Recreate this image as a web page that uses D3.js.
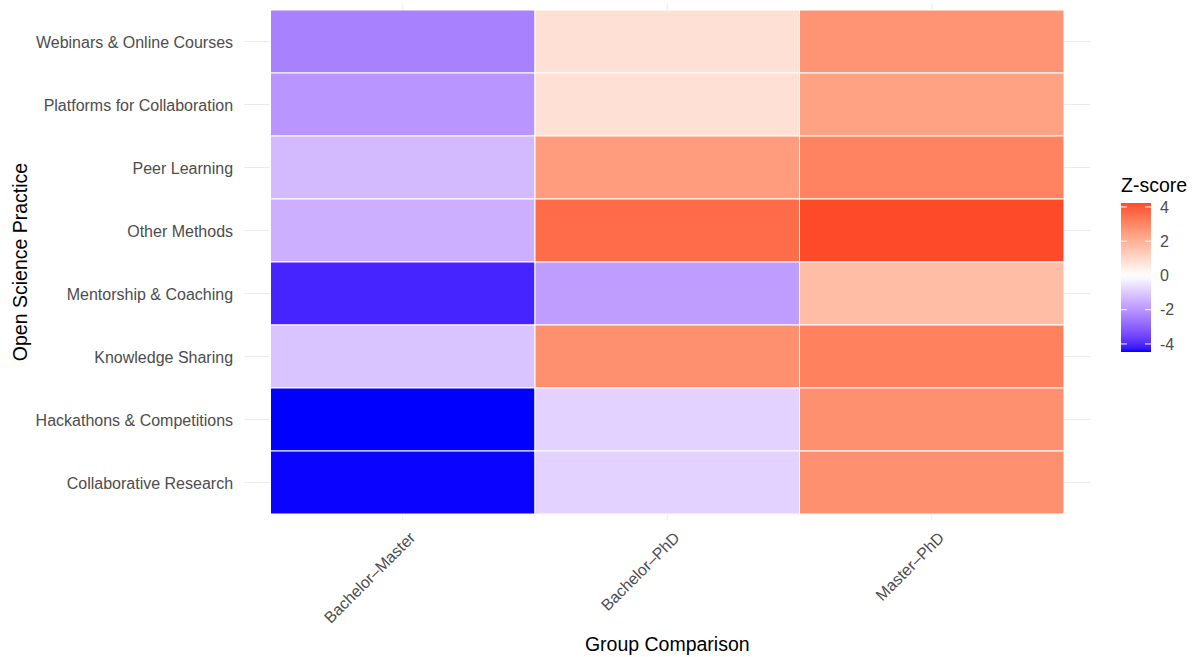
<!DOCTYPE html>
<html>
<head>
<meta charset="utf-8">
<script src="https://cdn.jsdelivr.net/npm/d3@7"></script>
<style>
html,body{margin:0;padding:0;background:#fff;}
svg{display:block;font-family:"Liberation Sans",Arial,sans-serif;}
</style>
</head>
<body>
<svg id="chart" width="1199" height="657"></svg>
<script>
// ---- data ----
const practices = [
  "Webinars & Online Courses",
  "Platforms for Collaboration",
  "Peer Learning",
  "Other Methods",
  "Mentorship & Coaching",
  "Knowledge Sharing",
  "Hackathons & Competitions",
  "Collaborative Research"
];
const comparisons = ["Bachelor–Master", "Bachelor–PhD", "Master–PhD"];
const bachelorMaster = [-2.4, -2.0, -1.3, -1.5, -4.1, -1.1, -4.47, -4.45];
const bachelorPhD    = [0.8, 0.8, 2.5, 3.6, -1.85, 2.8, -0.85, -0.85];
const masterPhD      = [2.7, 2.4, 3.1, 4.23, 1.7, 3.15, 2.8, 2.8];
const legendTicks = [-4, -2, 0, 2, 4];

const seriesByComparison = [bachelorMaster, bachelorPhD, masterPhD];
const cells = [];
comparisons.forEach((c, ci) => {
  practices.forEach((p, pi) => {
    cells.push({comparison: c, practice: p, z: seriesByComparison[ci][pi]});
  });
});

const svg = d3.select("#chart");

// panel (tiles area) with ggplot-like discrete expansion
const tileL = 270.5, tileR = 1064, tileT = 10, tileB = 514;
const unitX = (tileR - tileL) / comparisons.length;
const unitY = (tileB - tileT) / practices.length;
const panelL = tileL - 0.1 * unitX, panelR = tileR + 0.1 * unitX;
const panelT = tileT - 0.1 * unitY, panelB = tileB + 0.1 * unitY;

const x = d3.scaleBand().domain(comparisons).range([tileL, tileR]).padding(0);
const y = d3.scaleBand().domain(practices).range([tileT, tileB]).padding(0);

const zMin = d3.min(cells, d => d.z), zMax = d3.max(cells, d => d.z);
const zAbs = Math.max(Math.abs(zMin), Math.abs(zMax));
const lowInterp = d3.interpolateLab("white", "#0000ff");
const highInterp = d3.interpolateLab("white", "#ff3a1e");
function color(v) {
  const t = v / zAbs;
  return t >= 0 ? highInterp(Math.min(1, t)) : lowInterp(Math.min(1, -t));
}

// grid lines
const grid = svg.append("g");
comparisons.forEach(c => {
  const gx = x(c) + x.bandwidth() / 2;
  grid.append("line").attr("x1", gx).attr("x2", gx).attr("y1", panelT).attr("y2", panelB)
    .attr("stroke", "#ebebeb").attr("stroke-width", 1);
});
practices.forEach(p => {
  const gy = y(p) + y.bandwidth() / 2;
  grid.append("line").attr("x1", panelL).attr("x2", panelR).attr("y1", gy).attr("y2", gy)
    .attr("stroke", "#ebebeb").attr("stroke-width", 1);
});

// tiles
svg.append("g").selectAll("rect").data(cells).join("rect")
  .attr("x", d => x(d.comparison))
  .attr("y", d => y(d.practice))
  .attr("width", x.bandwidth())
  .attr("height", y.bandwidth())
  .attr("fill", d => color(d.z))
  .attr("stroke", "white")
  .attr("stroke-width", 1);

// y axis labels
const yAxis = d3.axisLeft(y).tickSize(0).tickPadding(0);
const yg = svg.append("g").attr("transform", `translate(${panelL - 11},1)`).call(yAxis);
yg.select(".domain").remove();
yg.selectAll("text").attr("fill", "#4d4d4d").attr("font-size", "16px")
  .attr("font-family", "Liberation Sans, Arial, sans-serif");

// x axis labels rotated 45
const xAxis = d3.axisBottom(x).tickSize(0).tickPadding(0);
const xg = svg.append("g").attr("transform", `translate(0,${panelB + 6})`).call(xAxis);
xg.select(".domain").remove();
xg.selectAll("text")
  .attr("fill", "#4d4d4d").attr("font-size", "16px")
  .attr("font-family", "Liberation Sans, Arial, sans-serif")
  .attr("text-anchor", "end")
  .attr("dy", "0.75em")
  .attr("transform", "translate(5,4) rotate(-45)");

// axis titles
svg.append("text").attr("x", (panelL + panelR) / 2).attr("y", 651)
  .attr("text-anchor", "middle").attr("font-size", "19.5px").attr("fill", "#000")
  .text("Group Comparison");
svg.append("text")
  .attr("transform", `translate(27,${(panelT + panelB) / 2}) rotate(-90)`)
  .attr("text-anchor", "middle").attr("font-size", "19.5px").attr("fill", "#000")
  .text("Open Science Practice");

// legend
const legX = 1121, legW = 30, legT = 203, legB = 352;
const ls = d3.scaleLinear().domain([zMin, zMax]).range([legB, legT]);
const defs = svg.append("defs");
const grad = defs.append("linearGradient").attr("id", "zgrad")
  .attr("x1", 0).attr("x2", 0).attr("y1", 1).attr("y2", 0);
d3.range(0, 41).forEach(i => {
  const v = zMin + (zMax - zMin) * i / 40;
  grad.append("stop").attr("offset", (i / 40 * 100) + "%").attr("stop-color", color(v));
});
svg.append("rect").attr("x", legX).attr("y", legT).attr("width", legW).attr("height", legB - legT)
  .attr("fill", "url(#zgrad)");
const lg = svg.append("g");
legendTicks.forEach(t => {
  const ty = ls(t);
  lg.append("line").attr("x1", legX).attr("x2", legX + legW / 5).attr("y1", ty).attr("y2", ty)
    .attr("stroke", "white").attr("stroke-width", 1);
  lg.append("line").attr("x1", legX + legW * 4 / 5).attr("x2", legX + legW).attr("y1", ty).attr("y2", ty)
    .attr("stroke", "white").attr("stroke-width", 1);
  lg.append("text").attr("x", legX + legW + 9).attr("y", ty).attr("dy", "0.36em")
    .attr("font-size", "16px").attr("fill", "#4d4d4d").text(t);
});
svg.append("text").attr("x", legX).attr("y", 192).attr("font-size", "19.5px").attr("fill", "#000")
  .text("Z-score");
</script>
</body>
</html>
